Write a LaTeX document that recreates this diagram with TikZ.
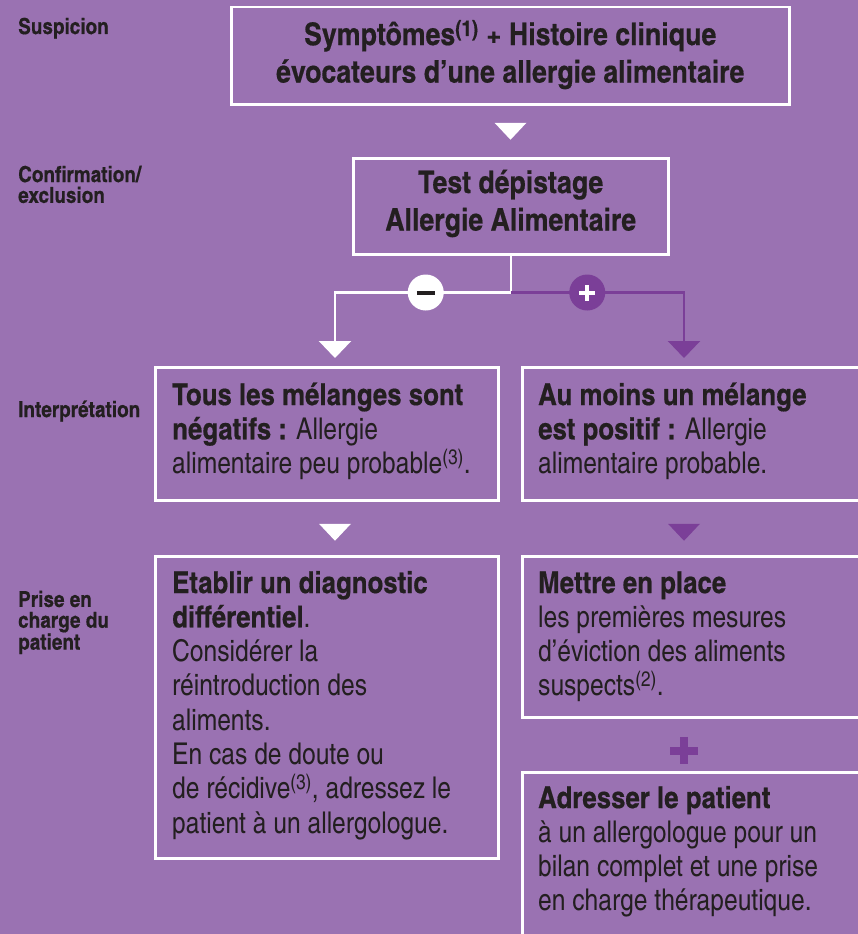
\documentclass[tikz,border=0pt]{standalone}
\usepackage{fontspec}
\setmainfont{texgyreheroscn}[Extension=.otf,UprightFont=*-regular,BoldFont=*-bold,
  BoldFeatures={FakeStretch=1.05,FakeBold=0.5}]
\usetikzlibrary{positioning,calc,arrows.meta}

\definecolor{bgpurple}{HTML}{9A72B2}
\definecolor{darkpurple}{HTML}{7B3F98}
\definecolor{ink}{HTML}{231F20}

\begin{document}
\begin{tikzpicture}[x=1pt,y=-1pt,
  box/.style={draw=white,line width=2.5pt,inner sep=0pt,anchor=north west},
  boxtxt/.style={anchor=base west,inner sep=0pt,align=left,text=ink,font=\fontsize{30}{34.3}\selectfont},
  headtxt/.style={anchor=base,inner sep=0pt,align=center,text=ink,font=\bfseries\fontsize{31}{37.5}\selectfont},
  steplabel/.style={anchor=base west,inner sep=0pt,align=left,text=ink,font=\bfseries\fontsize{22}{20.8}\selectfont},
  flow/.style={line width=2.5pt,-{Triangle[width=32pt,length=17pt]}},
  tri/.pic={\fill (-16,-8.5) -- (16,-8.5) -- (0,8.5) -- cycle;}]
\useasboundingbox[fill=bgpurple] (0,0) rectangle (858,934);

% step labels (anchored on the last line)
\node[steplabel] (lsusp) at (18,34) {Suspicion};
\node[steplabel] (lconf) at (18,202.8) {Confirmation/\\exclusion};
\node[steplabel] (linterp) at (18,417) {Interprétation};
\node[steplabel] (lcare) at (18,649.6) {Prise en\\charge du\\patient};

% boxes
\node[box,minimum width=558pt,minimum height=97pt] (symp) at (230,6) {};
\node[box,minimum width=315pt,minimum height=96pt] (test) at (352,157) {};
\node[box,minimum width=343pt,minimum height=133pt] (interpL) at (154,366) {};
\node[box,minimum width=360pt,minimum height=133pt] (interpR) at (521,366) {};
\node[box,minimum width=343pt,minimum height=302pt] (careL) at (154,555) {};
\node[box,minimum width=360pt,minimum height=161pt] (careR) at (521,555) {};
\node[box,minimum width=360pt,minimum height=200pt] (referR) at (521,771) {};

% texts (anchored on the last line)
\node[headtxt] (symptxt) at ($(symp.north)+(0,76.5)$) {Symptômes\textsuperscript{(1)} + Histoire clinique\\évocateurs d’une allergie alimentaire};
\node[headtxt] (testtxt) at ($(test.north)+(0,73.5)$) {Test dépistage\\Allergie Alimentaire};
\node[boxtxt] (interpLtxt) at ($(interpL.north west)+(18,107.6)$) {\textbf{Tous les mélanges sont}\\\textbf{négatifs :} Allergie\\alimentaire peu probable\textsuperscript{(3)}.};
\node[boxtxt] (interpRtxt) at ($(interpR.north west)+(17,107.6)$) {\textbf{Au moins un mélange}\\\textbf{est positif :} Allergie\\alimentaire probable.};
\node[boxtxt] (careLtxt) at ($(careL.north west)+(18,278.1)$) {\textbf{Etablir un diagnostic}\\\textbf{différentiel}.\\Considérer la\\réintroduction des\\aliments.\\En cas de doute ou\\de récidive\textsuperscript{(3)}, adressez le\\patient à un allergologue.};
\node[boxtxt] (careRtxt) at ($(careR.north west)+(17,140.9)$) {\textbf{Mettre en place}\\les premières mesures\\d’éviction des aliments\\suspects\textsuperscript{(2)}.};
\node[boxtxt] (referRtxt) at ($(referR.north west)+(17,139.9)$) {\textbf{Adresser le patient}\\à un allergologue pour un\\bilan complet et une prise\\en charge thérapeutique.};

% branching
\coordinate (fork) at ($(test.south)+(0,37)$);
\coordinate (negend) at ($(interpL.north west)+(181,-8)$);
\coordinate (posend) at ($(interpR.north west)+(163,-8)$);
\draw[white,flow] (test.south) -- (fork) -| (negend);
\draw[darkpurple,flow] (fork) -| (posend);
\node[circle,fill=white,minimum size=36pt,inner sep=0pt] (neg) at ($(fork)+(-85,0)$) {};
\node[circle,fill=darkpurple,minimum size=36pt,inner sep=0pt] (pos) at ($(fork)+(76.5,0)$) {};
\draw[ink,line width=4pt] ([xshift=-9pt]neg.center) -- ([xshift=9pt]neg.center);
\draw[white,line width=4pt] ([xshift=-8pt]pos.center) -- ([xshift=8pt]pos.center)
  ([yshift=-8pt]pos.center) -- ([yshift=8pt]pos.center);

% arrowheads between rows
\pic[white] at ($(symp.south)!0.5!(test.north)$) {tri};
\pic[white] at ($(interpL.south west)!0.5!(careL.north west)+(181,4)$) {tri};
\pic[darkpurple] at ($(interpR.south west)!0.5!(careR.north west)+(163,4)$) {tri};

% plus between the right boxes
\node[inner sep=0pt,minimum size=27pt] (also) at ($(careR.south west)+(163,32)$) {};
\draw[darkpurple,line width=8pt] (also.west) -- (also.east) (also.north) -- (also.south);
\end{tikzpicture}
\end{document}
